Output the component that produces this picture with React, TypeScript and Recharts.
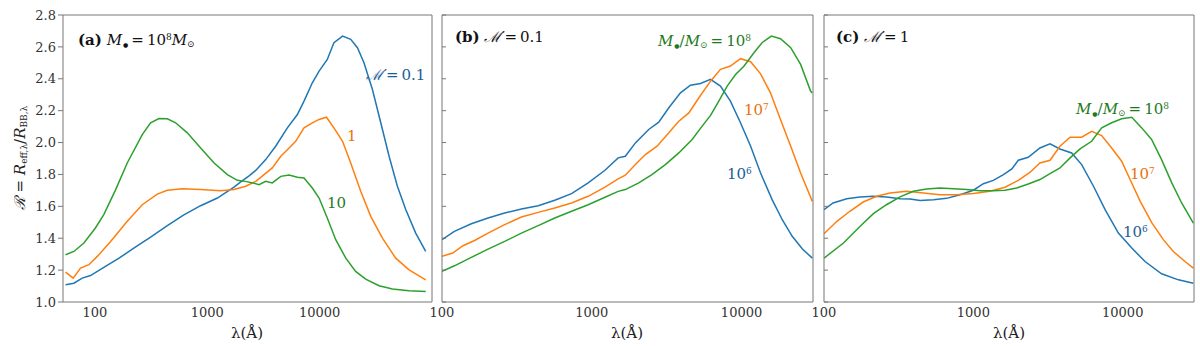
import React from 'react'
import { LineChart, Line, XAxis, YAxis, ReferenceLine } from 'recharts'

// [lambda (Å), R]
// panel (a): M = 1e8 Msun, three accretion rates
const aMdot01 = [
  [54.8, 1.108], [65, 1.118], [77.1, 1.15], [91.4, 1.166], [120, 1.217], [164, 1.275],
  [222, 1.338], [313, 1.407], [441, 1.479], [619, 1.546], [873, 1.604], [1230, 1.652],
  [1730, 1.721], [2000, 1.755], [2340, 1.79], [2700, 1.825], [3310, 1.893], [4060, 1.977],
  [5160, 2.092], [6340, 2.176], [7260, 2.26], [8610, 2.375], [9890, 2.448], [11700, 2.521],
  [13400, 2.626], [16000, 2.668], [18900, 2.647], [21700, 2.595], [24800, 2.501],
  [29500, 2.333], [35000, 2.124], [41500, 1.914], [49200, 1.726], [58500, 1.579],
  [71600, 1.432], [87900, 1.317],
]
const aMdot1 = [
  [54.8, 1.187], [64.1, 1.15], [74.5, 1.213], [88.5, 1.234], [105, 1.286], [138, 1.38],
  [194, 1.506], [264, 1.61], [359, 1.677], [441, 1.701], [598, 1.711], [873, 1.705],
  [1315, 1.698], [1730, 1.705], [2200, 1.726], [2700, 1.757], [3200, 1.799], [3790, 1.841],
  [4510, 1.914], [5350, 1.966], [6120, 2.008], [7260, 2.092], [8610, 2.124], [9890, 2.145],
  [11500, 2.159], [13400, 2.092], [16000, 2.008], [18900, 1.872], [23200, 1.694],
  [28500, 1.537], [36200, 1.401], [47500, 1.275], [62500, 1.202], [87900, 1.139],
]
const aMdot10 = [
  [54.8, 1.296], [65, 1.317], [79.8, 1.37], [101, 1.464], [120, 1.548], [153, 1.705],
  [194, 1.872], [264, 2.05], [313, 2.124], [372, 2.151], [441, 2.149], [523, 2.124],
  [664, 2.061], [873, 1.966], [1150, 1.872], [1510, 1.799], [1850, 1.763], [2240, 1.755],
  [2520, 1.747], [2890, 1.736], [3310, 1.757], [3790, 1.747], [4510, 1.788], [5350, 1.797],
  [6340, 1.782], [7260, 1.778], [8610, 1.715], [9890, 1.652], [11700, 1.527], [13900, 1.391],
  [17100, 1.275], [20900, 1.192], [25700, 1.143], [33800, 1.102], [44500, 1.081],
  [62500, 1.07], [87900, 1.066],
]

// panel (b): Mdot = 0.1, three masses
const bM6 = [
  [100, 1.391], [121, 1.443], [157, 1.491], [203, 1.527], [262, 1.558], [339, 1.583],
  [439, 1.604], [566, 1.638], [733, 1.68], [946, 1.747], [1225, 1.826], [1500, 1.904],
  [1675, 1.914], [1955, 1.998], [2400, 2.082], [2800, 2.128], [3270, 2.218], [3910, 2.312],
  [4560, 2.36], [5320, 2.371], [6210, 2.396], [7230, 2.354], [8430, 2.26], [9840, 2.124],
  [11500, 1.977], [13400, 1.809], [16000, 1.642], [18700, 1.516], [21800, 1.412],
  [25500, 1.332], [29700, 1.275],
]
const bM7 = [
  [100, 1.286], [118, 1.307], [138, 1.353], [165, 1.386], [203, 1.432], [262, 1.485],
  [339, 1.533], [439, 1.562], [566, 1.59], [733, 1.621], [946, 1.663], [1225, 1.721],
  [1500, 1.772], [1675, 1.795], [1955, 1.862], [2280, 1.925], [2730, 1.977], [3270, 2.061],
  [3810, 2.134], [4450, 2.186], [5190, 2.281], [6210, 2.385], [7230, 2.459], [8430, 2.48],
  [9840, 2.526], [11500, 2.507], [13400, 2.431], [15600, 2.312], [18200, 2.145],
  [21300, 1.977], [24800, 1.809], [29700, 1.631],
]
const bM8 = [
  [100, 1.192], [121, 1.227], [157, 1.28], [203, 1.332], [262, 1.38], [339, 1.432],
  [439, 1.479], [566, 1.527], [733, 1.569], [946, 1.61], [1225, 1.657], [1500, 1.694],
  [1675, 1.705], [2060, 1.747], [2520, 1.799], [3100, 1.862], [3810, 1.935], [4680, 2.019],
  [5460, 2.103], [6210, 2.17], [7050, 2.26], [8020, 2.354], [9120, 2.427], [10400, 2.48],
  [12100, 2.563], [13700, 2.626], [15800, 2.668], [18200, 2.651], [21300, 2.595],
  [24800, 2.49], [28900, 2.323], [29700, 2.31],
]

// panel (c): Mdot = 1, three masses
const cM6 = [
  [100, 1.579], [115, 1.621], [142, 1.648], [174, 1.659], [214, 1.663], [262, 1.659],
  [323, 1.648], [377, 1.646], [440, 1.636], [540, 1.642], [662, 1.65], [815, 1.673],
  [1000, 1.701], [1167, 1.742], [1360, 1.763], [1590, 1.799], [1810, 1.835], [2000, 1.889],
  [2330, 1.908], [2790, 1.966], [3260, 1.992], [3800, 1.96], [4550, 1.935], [5310, 1.862],
  [6370, 1.726], [7620, 1.579], [9350, 1.432], [11500, 1.338], [14100, 1.254],
  [18200, 1.177], [23600, 1.139], [29700, 1.118],
]
const cM7 = [
  [100, 1.428], [122, 1.506], [149, 1.569], [183, 1.627], [225, 1.663], [277, 1.684],
  [357, 1.694], [462, 1.684], [598, 1.673], [773, 1.673], [1000, 1.68], [1290, 1.694],
  [1630, 1.72], [2000, 1.763], [2400, 1.814], [2790, 1.872], [3260, 1.889], [3800, 1.977],
  [4440, 2.034], [5310, 2.034], [6190, 2.071], [7230, 2.044], [8430, 1.966], [9840, 1.883],
  [11200, 1.768], [13100, 1.631], [15600, 1.499], [18700, 1.391], [21800, 1.317],
  [26100, 1.254], [29700, 1.213],
]
const cM8 = [
  [100, 1.275], [135, 1.37], [174, 1.474], [214, 1.554], [262, 1.61], [323, 1.659],
  [396, 1.694], [486, 1.709], [598, 1.715], [735, 1.711], [902, 1.705], [1110, 1.698],
  [1360, 1.698], [1630, 1.701], [1950, 1.715], [2330, 1.74], [2790, 1.768], [3260, 1.805],
  [3800, 1.841], [4440, 1.904], [5180, 1.96], [6190, 2.008], [7230, 2.092], [8430, 2.124],
  [9840, 2.149], [11500, 2.159], [13400, 2.092], [15600, 2.019], [18200, 1.893],
  [21300, 1.747], [24800, 1.621], [29700, 1.495],
]

const yTicks = [1.0, 1.2, 1.4, 1.6, 1.8, 2.0, 2.2, 2.4, 2.6, 2.8]
const xTicks = [100, 1000, 10000]

const BLUE = '#1f77b4'
const ORANGE = '#ff7f0e'
const GREEN = '#2ca02c'
const FRAME = '#777'
const FONT = 'DejaVu Serif'

const pts = (arr: number[][]) => arr.map(([lam, r]) => ({ lam, r }))
const noTick = () => <g />

type PanelProps = {
  left: number
  width: number
  mLeft: number
  mRight: number
  xDomain: [number, number]
  labels: boolean
  series: { data: number[][]; color: string }[]
}

function Panel({ left, width, mLeft, mRight, xDomain, labels, series }: PanelProps) {
  return (
    <div style={{ position: 'absolute', left, top: 0 }}>
      <LineChart width={width} height={346} margin={{ top: 15, right: mRight, bottom: 14, left: mLeft }}>
        <XAxis
          dataKey="lam"
          type="number"
          scale="log"
          domain={xDomain}
          allowDataOverflow
          ticks={xTicks}
          interval={0}
          height={30}
          tickSize={0}
          tickMargin={6}
          tickLine={false}
          axisLine={{ stroke: FRAME }}
          tick={{ fill: '#333', fontSize: 13, fontFamily: FONT }}
        />
        <YAxis
          yAxisId="l"
          type="number"
          domain={[1, 2.8]}
          ticks={yTicks}
          interval={0}
          allowDataOverflow
          width={45}
          mirror={!labels}
          tickSize={labels ? 5 : 4}
          tickMargin={2}
          axisLine={{ stroke: FRAME }}
          tickLine={{ stroke: FRAME }}
          tickFormatter={(v: number) => v.toFixed(1)}
          tick={labels ? { fill: '#333', fontSize: 13, fontFamily: FONT } : noTick}
        />
        <YAxis
          yAxisId="r"
          orientation="right"
          type="number"
          domain={[1, 2.8]}
          ticks={yTicks}
          interval={0}
          mirror
          tickSize={4}
          axisLine={{ stroke: FRAME }}
          tickLine={{ stroke: FRAME }}
          tick={noTick}
        />
        <ReferenceLine yAxisId="l" y={2.8} stroke={FRAME} ifOverflow="extendDomain" />
        {series.map((s, i) => (
          <Line
            key={i}
            yAxisId="l"
            data={pts(s.data)}
            dataKey="r"
            type="linear"
            stroke={s.color}
            strokeWidth={1.5}
            dot={false}
            isAnimationActive={false}
          />
        ))}
      </LineChart>
    </div>
  )
}

const txt = (left: number, top: number, color: string, size = 14): React.CSSProperties => ({
  position: 'absolute',
  left,
  top,
  color,
  fontSize: size,
  fontFamily: FONT,
  whiteSpace: 'nowrap',
  lineHeight: '18px',
})

const subS: React.CSSProperties = { fontSize: 9, verticalAlign: '-0.25em' }
const dotS: React.CSSProperties = { fontSize: 6, verticalAlign: '-0.4em', marginLeft: 1 }
const supS: React.CSSProperties = { fontSize: 9, verticalAlign: '0.5em' }
const EQ = '\u2009=\u2009'

const Mdot = () => <span style={{ fontStyle: 'italic' }}>ℳ̇</span>
const Mbh = () => (
  <span>
    <i>M</i>
    <span style={dotS}>●</span>
  </span>
)
const Msun = () => (
  <span>
    <i>M</i>
    <span style={subS}>⊙</span>
  </span>
)

export default function App() {
  return (
    <div style={{ position: 'absolute', left: 0, top: 0, width: 1200, height: 346, background: '#fff', fontFamily: FONT }}>
      <Panel
        left={0}
        width={440}
        mLeft={18}
        mRight={8}
        xDomain={[52, 100000]}
        labels
        series={[
          { data: aMdot01, color: BLUE },
          { data: aMdot1, color: ORANGE },
          { data: aMdot10, color: GREEN },
        ]}
      />
      <Panel
        left={425}
        width={395}
        mLeft={17}
        mRight={7}
        xDomain={[100, 30000]}
        labels={false}
        series={[
          { data: bM6, color: BLUE },
          { data: bM7, color: ORANGE },
          { data: bM8, color: GREEN },
        ]}
      />
      <Panel
        left={805}
        width={395}
        mLeft={19}
        mRight={6}
        xDomain={[100, 30000]}
        labels={false}
        series={[
          { data: cM6, color: BLUE },
          { data: cM7, color: ORANGE },
          { data: cM8, color: GREEN },
        ]}
      />

      {/* panel titles */}
      <div style={txt(78, 28, '#111', 15)}>
        <b>(a)</b> <Mbh />{EQ}10<span style={supS}>8</span><Msun />
      </div>
      <div style={txt(455, 28, '#111', 15)}>
        <b>(b)</b> <Mdot />{EQ}0.1
      </div>
      <div style={txt(836, 28, '#111', 15)}>
        <b>(c)</b> <Mdot />{EQ}1
      </div>

      {/* curve annotations */}
      <div style={txt(366, 66, '#1b5e96', 15)}>
        <Mdot />{EQ}0.1
      </div>
      <div style={txt(347, 127, '#e8730c', 15)}>1</div>
      <div style={txt(327, 194, '#1f7a1f', 15)}>10</div>

      <div style={txt(658, 29, '#1f7a1f', 15)}>
        <Mbh />/<Msun />{EQ}10<span style={supS}>8</span>
      </div>
      <div style={txt(744, 98, '#e8730c', 15)}>
        10<span style={supS}>7</span>
      </div>
      <div style={txt(727, 162, '#1b5e96', 15)}>
        10<span style={supS}>6</span>
      </div>

      <div style={txt(1076, 97, '#1f7a1f', 15)}>
        <Mbh />/<Msun />{EQ}10<span style={supS}>8</span>
      </div>
      <div style={txt(1130, 162, '#e8730c', 15)}>
        10<span style={supS}>7</span>
      </div>
      <div style={txt(1123, 220, '#1b5e96', 15)}>
        10<span style={supS}>6</span>
      </div>

      {/* axis titles */}
      <div
        style={{
          ...txt(22, 158, '#222', 15),
          transform: 'translate(-50%, -50%) rotate(-90deg)',
        }}
      >
        <i>ℛ</i> = <i>R</i>
        <span style={subS}>eff,λ</span>/<i>R</i>
        <span style={subS}>BB,λ</span>
      </div>
      {[247, 627, 1009].map((cx) => (
        <div key={cx} style={{ ...txt(cx, 324, '#222', 15), transform: 'translateX(-50%)' }}>
          λ(Å)
        </div>
      ))}
    </div>
  )
}
